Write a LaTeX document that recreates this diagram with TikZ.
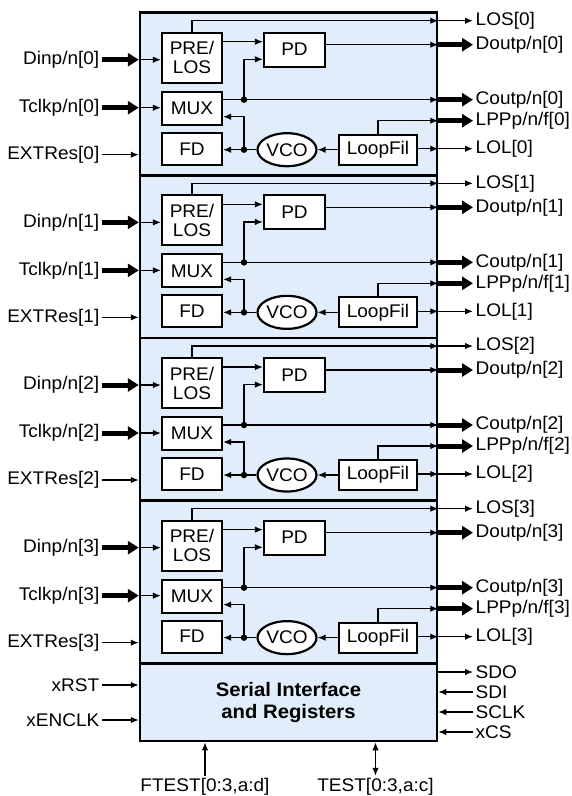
\documentclass[tikz,border=0pt]{standalone}
\usepackage{fontspec}
\setmainfont{Liberation Sans}[FakeStretch=1.04]
\usetikzlibrary{arrows.meta,shapes.geometric,positioning,calc}
\definecolor{chipblue}{RGB}{225,237,250}

\begin{document}
\begin{tikzpicture}[x=1pt, y=-1pt,
    font=\fontsize{18.3}{19}\selectfont,
    blk/.style={draw, line width=2.5pt, fill=chipblue, inner sep=0pt, minimum width=297pt},
    box/.style={draw, line width=2.2pt, fill=white, inner sep=0pt, align=center, minimum width=60pt},
    osc/.style={draw, ellipse, line width=2.2pt, fill=white, inner sep=0pt, minimum width=59pt, minimum height=33pt},
    arr/.style={-{Latex[length=8pt,width=6.5pt]}, line width=1.3pt},
    dbl/.style={{Latex[length=8pt,width=6.5pt]}-{Latex[length=8pt,width=6.5pt]}, line width=1.3pt},
    bus/.style={-{Triangle[length=11pt,width=13pt]}, line width=5pt},
    pin/.style={inner sep=2.5pt},
    jn/.style={circle, fill, inner sep=0pt, minimum size=6.5pt}
]
\useasboundingbox (0,0) rectangle (572,796);

\foreach \i in {0,...,3}{
\begin{scope}[shift={(0,12.7+162.65*\i)}]
\node[blk, minimum height=162.65pt] (ch\i) at (288.5,81.3) {};
\node[box, minimum height=50pt] (pre\i) at (192,45) {PRE/\\LOS};
\node[box, minimum width=61pt, minimum height=34pt] (pd\i) at (294.5,37) {PD};
\node[box, minimum height=33pt] (mux\i) at (192,95.5) {MUX};
\node[box, minimum height=32pt] (fd\i) at (192,136) {FD};
\node[osc] (vco\i) at (287,137) {VCO};
\node[box, minimum width=78pt, minimum height=30pt] (lf\i) at (378,137) {LoopFil};
\node[jn] (j1\i) at (244,87) {};
\node[jn] (j2\i) at (244,137) {};

\node[pin, anchor=west] (los\i) at (473,8) {LOS[\i]};
\node[pin, anchor=west] (dout\i) at (473,32) {Doutp/n[\i]};
\node[pin, anchor=west] (cout\i) at (473,87) {Coutp/n[\i]};
\node[pin, anchor=west] (lpp\i) at (473,108) {LPPp/n/f[\i]};
\node[pin, anchor=west] (lol\i) at (473,136) {LOL[\i]};
\node[pin, anchor=east] (din\i) at (102,47) {Dinp/n[\i]};
\node[pin, anchor=east] (tclk\i) at (102,95) {Tclkp/n[\i]};
\node[pin, anchor=east] (ext\i) at (102,142) {EXTRes[\i]};

\coordinate (pda\i) at ([yshift=8pt]pd\i.west);
\coordinate (pdb\i) at ([yshift=-9.6pt]pd\i.west);
\coordinate (muxb\i) at ([yshift=-8.5pt]mux\i.east);

\draw[arr] (pre\i.north) |- (ch\i.east |- los\i);
\draw[arr] (ch\i.east |- los\i) -- (los\i.west);
\draw[arr] (pre\i.east |- pda\i) -- (pda\i);
\draw[arr] (j1\i.center) |- (pdb\i);
\draw[arr] (pd\i.east |- dout\i) -- (ch\i.east |- dout\i);
\draw[bus] (ch\i.east |- dout\i) -- (dout\i.west);
\draw[arr] (mux\i.east |- cout\i) -- (ch\i.east |- cout\i);
\draw[bus] (ch\i.east |- cout\i) -- (cout\i.west);
\draw[arr] (lf\i.north) |- (ch\i.east |- lpp\i);
\draw[bus] (ch\i.east |- lpp\i) -- (lpp\i.west);
\draw[arr] (lf\i.east |- lol\i) -- (ch\i.east |- lol\i);
\draw[arr] (ch\i.east |- lol\i) -- (lol\i.west);
\draw[arr] (lf\i.west) -- (vco\i.east);
\draw[arr] (vco\i.west) -- (fd\i.east |- vco\i);
\draw[arr] (j2\i.center) |- (muxb\i);
\draw[bus] (din\i.east) -- (ch\i.west |- din\i);
\draw[arr] (ch\i.west |- din\i) -- (pre\i.west |- din\i);
\draw[bus] (tclk\i.east) -- (ch\i.west |- tclk\i);
\draw[arr] (ch\i.west |- tclk\i) -- (mux\i.west |- tclk\i);
\draw[arr] (ext\i.east) -- (ch\i.west |- ext\i);
\end{scope}
}

\node[blk, minimum height=77.7pt, align=center, font=\fontsize{19.5}{22}\selectfont\bfseries] (ser) at (288.5,702.2) {Serial Interface\\and Registers};
\node[pin, anchor=east] (xrst) at (102,685) {xRST};
\node[pin, anchor=east] (xenclk) at (102,720) {xENCLK};
\node[pin, anchor=west] (sdo) at (473,672) {SDO};
\node[pin, anchor=west] (sdi) at (473,692) {SDI};
\node[pin, anchor=west] (sclk) at (473,712) {SCLK};
\node[pin, anchor=west] (xcs) at (473,732) {xCS};
\node[pin] (ftest) at (205,787) {FTEST[0:3,a:d]};
\node[pin] (test) at (375.5,787) {TEST[0:3,a:c]};

\draw[arr] (xrst.east) -- (ser.west |- xrst);
\draw[arr] (xenclk.east) -- (ser.west |- xenclk);
\draw[arr] (ser.east |- sdo) -- (sdo.west);
\draw[arr] (sdi.west) -- (ser.east |- sdi);
\draw[arr] (sclk.west) -- (ser.east |- sclk);
\draw[arr] (xcs.west) -- (ser.east |- xcs);
\draw[arr] (ftest.north) -- (ser.south -| ftest);
\draw[dbl] (test.north) -- (ser.south -| test);
\end{tikzpicture}
\end{document}
